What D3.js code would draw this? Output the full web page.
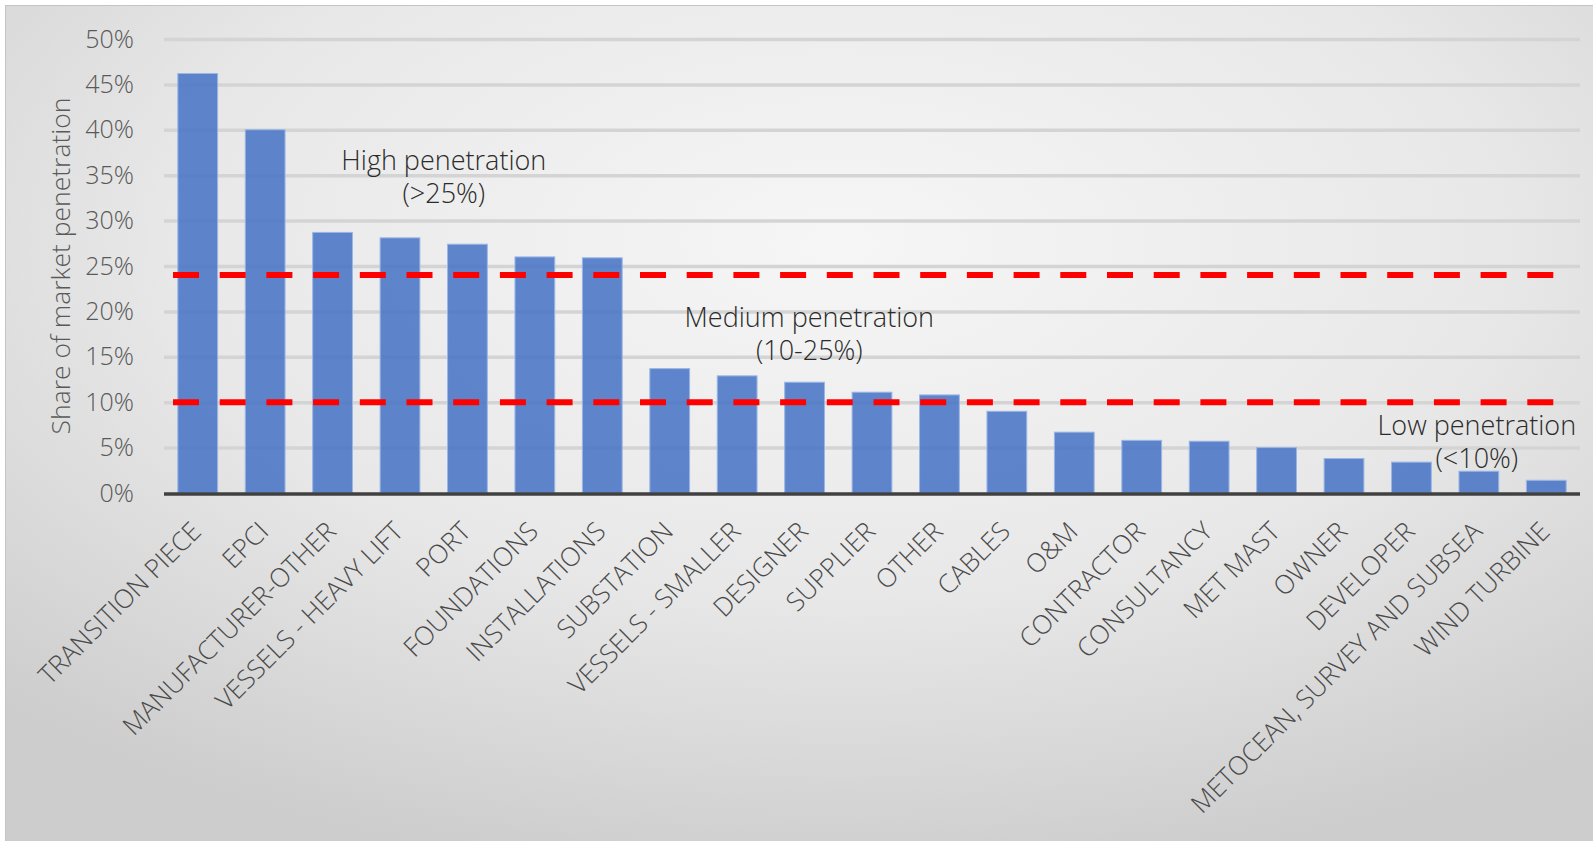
<!DOCTYPE html>
<html lang="en">
<head>
<meta charset="utf-8">
<title>Share of market penetration</title>
<script src="https://cdn.jsdelivr.net/npm/d3@7"></script>
<style>
  body { margin: 0; background: #ffffff; }
  svg text { font-family: "Open Sans", "Noto Sans", sans-serif; font-weight: 300; }
</style>
</head>
<body>
<script>
  var w = 1593;
  var h = 841;

  // chart data
  var categories = ["TRANSITION PIECE", "EPCI", "MANUFACTURER-OTHER", "VESSELS - HEAVY LIFT", "PORT",
                    "FOUNDATIONS", "INSTALLATIONS", "SUBSTATION", "VESSELS - SMALLER", "DESIGNER",
                    "SUPPLIER", "OTHER", "CABLES", "O&M", "CONTRACTOR", "CONSULTANCY", "MET MAST",
                    "OWNER", "DEVELOPER", "METOCEAN, SURVEY AND SUBSEA", "WIND TURBINE"];
  var shares = [0.462, 0.400, 0.287, 0.281, 0.274, 0.260, 0.259, 0.137, 0.129, 0.122,
                0.111, 0.108, 0.090, 0.067, 0.058, 0.057, 0.050, 0.038, 0.034, 0.024, 0.014];
  var yTicks = [0, 0.05, 0.10, 0.15, 0.20, 0.25, 0.30, 0.35, 0.40, 0.45, 0.50];
  var thresholds = [0.24, 0.10];
  var notes = [
    {lines: ["High penetration", "(>25%)"], cat: "VESSELS - HEAVY LIFT", shift: 0.65, v: 0.356},
    {lines: ["Medium penetration", "(10-25%)"], cat: "DESIGNER", shift: 0.07, v: 0.183},
    {lines: ["Low penetration", "(<10%)"], cat: "DEVELOPER", shift: 0.97, v: 0.064}
  ];

  var pLeft = 164, pRight = 1580, pTop = 39, pBottom = 493;

  var svg = d3.select("body").append("svg")
              .attr("width", w)
              .attr("height", h);

  // background with soft radial shading
  var defs = svg.append("defs");
  var grad = defs.append("radialGradient")
                 .attr("id", "bg")
                 .attr("cx", "52%").attr("cy", "28%")
                 .attr("r", "75%");
  grad.append("stop").attr("offset", "0%").attr("stop-color", "#f6f6f6");
  grad.append("stop").attr("offset", "55%").attr("stop-color", "#e8e8e8");
  grad.append("stop").attr("offset", "100%").attr("stop-color", "#cdcdcd");

  svg.append("rect")
     .attr("x", 5.5).attr("y", 5.5)
     .attr("width", w + 10).attr("height", h + 10)
     .attr("fill", "url(#bg)")
     .attr("stroke", "#c4c4c4")
     .attr("stroke-width", 1);

  var x = d3.scaleBand()
            .domain(categories)
            .range([pLeft, pRight])
            .paddingInner(0.41)
            .paddingOuter(0.205);

  var y = d3.scaleLinear()
            .domain([0, 0.5])
            .range([pBottom, pTop]);

  // gridlines
  svg.append("g")
     .attr("class", "grid")
     .attr("transform", "translate(" + pLeft + ",0)")
     .call(d3.axisLeft(y).tickValues(yTicks.slice(1)).tickSize(-(pRight - pLeft)).tickFormat(""))
     .call(function(g) {
        g.select(".domain").remove();
        g.selectAll(".tick line").attr("stroke", "#d4d4d4").attr("stroke-width", 3.5);
     });

  // y tick labels
  svg.append("g")
     .attr("transform", "translate(" + (pLeft - 30) + ",0)")
     .call(d3.axisLeft(y).tickValues(yTicks).tickSize(0).tickPadding(0).tickFormat(d3.format(".0%")))
     .call(function(g) {
        g.select(".domain").remove();
        g.selectAll("text")
         .attr("fill", "#595959")
         .attr("font-size", 25)
         .attr("font-family", "'Open Sans', sans-serif")
         .attr("font-weight", 300);
     });

  // bars
  svg.selectAll("rect.bar")
     .data(shares)
     .enter()
     .append("rect")
     .attr("class", "bar")
     .attr("x", function(d, i) { return x(categories[i]); })
     .attr("y", function(d) { return y(d); })
     .attr("width", x.bandwidth())
     .attr("height", function(d) { return y(0) - y(d); })
     .attr("fill", "#4472c4")
     .attr("fill-opacity", 0.85)
     .attr("stroke", "#9bb6e6")
     .attr("stroke-width", 1);

  // x axis line
  svg.append("line")
     .attr("x1", pLeft).attr("x2", pRight)
     .attr("y1", y(0) + 1).attr("y2", y(0) + 1)
     .attr("stroke", "#404040")
     .attr("stroke-width", 3.5);

  // category labels
  svg.append("g")
     .selectAll("text")
     .data(categories)
     .enter()
     .append("text")
     .attr("transform", function(d) {
        return "translate(" + (x(d) + x.bandwidth() / 2 + 5) + "," + (y(0) + 40) + ") rotate(-45)";
     })
     .attr("text-anchor", "end")
     .attr("fill", "#4a4a4a")
     .attr("font-size", 26)
     .text(function(d) { return d; });

  // threshold lines
  svg.selectAll("line.threshold")
     .data(thresholds)
     .enter()
     .append("line")
     .attr("class", "threshold")
     .attr("x1", pLeft + 9).attr("x2", pRight - 24)
     .attr("y1", function(d) { return y(d); })
     .attr("y2", function(d) { return y(d); })
     .attr("stroke", "#ff0000")
     .attr("stroke-width", 6)
     .attr("stroke-dasharray", "26,20.7");

  // annotations
  notes.forEach(function(n) {
     var cx = x(n.cat) + x.bandwidth() / 2 + n.shift * x.step();
     var t = svg.append("text")
                .attr("x", cx)
                .attr("y", y(n.v))
                .attr("text-anchor", "middle")
                .attr("fill", "#2b2b2b")
                .attr("font-size", 27);
     n.lines.forEach(function(s, i) {
        t.append("tspan")
         .attr("x", cx)
         .attr("dy", i === 0 ? 0 : 33)
         .text(s);
     });
  });

  // y axis title
  svg.append("text")
     .attr("transform", "translate(70," + ((pTop + pBottom) / 2) + ") rotate(-90)")
     .attr("text-anchor", "middle")
     .attr("fill", "#595959")
     .attr("font-size", 26.5)
     .text("Share of market penetration");
</script>
</body>
</html>
